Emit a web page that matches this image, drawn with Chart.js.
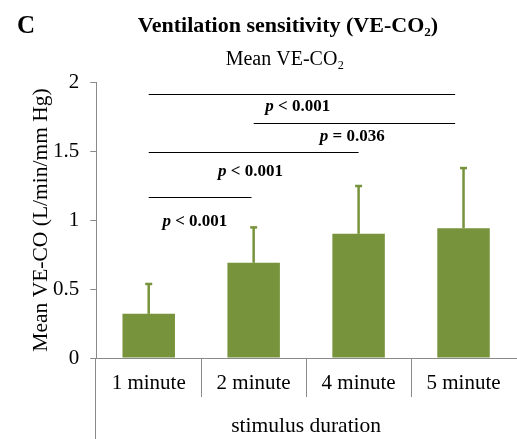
<!DOCTYPE html>
<html>
<head>
<meta charset="utf-8">
<script src="https://cdn.jsdelivr.net/npm/chart.js@4"></script>
<style>
html,body{margin:0;padding:0;background:#fff;}
#wrap{width:517px;height:439px;position:relative;}
</style>
</head>
<body>
<div id="wrap"><canvas id="c" width="517" height="439"></canvas></div>
<script>
// ---- data ----
const categories = ['1 minute', '2 minute', '4 minute', '5 minute'];
const meanValues = [0.32, 0.69, 0.90, 0.94];
const errorValues = [0.22, 0.26, 0.35, 0.44];
const yTicks = [0, 0.5, 1, 1.5, 2];
// significance brackets (category index from/to, level in data units)
const bracketFrom = [0, 1, 0, 0];
const bracketTo = [2.92, 2.92, 2.0, 0.98];
const bracketLevel = [1.915, 1.705, 1.496, 1.17];
const pLabels = ['< 0.001', '= 0.036', '< 0.001', '< 0.001'];
const pLabelX = [1.42, 1.94, 0.97, 0.44];
const pLabelLevel = [1.79, 1.575, 1.32, 0.96];
const yTitle = 'Mean VE-CO (L/min/mm Hg)';
const xTitle = 'stimulus duration';

const GREEN = '#77933C';
const AXIS = '#8a8a8a';
const SERIF = "'Liberation Serif', 'Times New Roman', serif";

const extras = {
  id: 'extras',
  afterDatasetsDraw(chart) {
    const ctx = chart.ctx;
    const x = chart.scales.x, y = chart.scales.y;
    const meta = chart.getDatasetMeta(0);
    ctx.save();
    // error bars
    ctx.strokeStyle = GREEN;
    meanValues.forEach((v, i) => {
      const px = meta.data[i].x;
      const top = y.getPixelForValue(v + errorValues[i]);
      const base = y.getPixelForValue(v);
      ctx.lineWidth = 2.5;
      ctx.beginPath(); ctx.moveTo(px, base); ctx.lineTo(px, top); ctx.stroke();
      ctx.beginPath(); ctx.moveTo(px - 3.5, top + 0.5); ctx.lineTo(px + 3.5, top + 0.5); ctx.stroke();
    });
    // brackets
    ctx.strokeStyle = '#000';
    ctx.lineWidth = 1.2;
    bracketLevel.forEach((lv, i) => {
      const yy = Math.round(y.getPixelForValue(lv)) + 0.5;
      ctx.beginPath();
      ctx.moveTo(x.getPixelForValue(bracketFrom[i]), yy);
      ctx.lineTo(x.getPixelForValue(bracketTo[i]), yy);
      ctx.stroke();
    });
    // p labels
    ctx.fillStyle = '#000';
    ctx.textBaseline = 'alphabetic';
    pLabels.forEach((t, i) => {
      const cx = x.getPixelForValue(pLabelX[i]);
      const cy = y.getPixelForValue(pLabelLevel[i]);
      ctx.font = 'italic bold 17px ' + SERIF;
      const w1 = ctx.measureText('p ').width;
      ctx.font = 'bold 17px ' + SERIF;
      const w2 = ctx.measureText(t).width;
      const sx = cx - (w1 + w2) / 2;
      ctx.textAlign = 'left';
      ctx.font = 'italic bold 17px ' + SERIF;
      ctx.fillText('p ', sx, cy);
      ctx.font = 'bold 17px ' + SERIF;
      ctx.fillText(t, sx + w1, cy);
    });
    // category separators below the axis
    ctx.strokeStyle = AXIS;
    ctx.lineWidth = 1;
    const bottom = chart.chartArea.bottom;
    for (let i = 0; i < categories.length - 1; i++) {
      const sx = Math.round(x.getPixelForValue(i + 0.5)) + 0.5;
      ctx.beginPath(); ctx.moveTo(sx, bottom); ctx.lineTo(sx, bottom + 39); ctx.stroke();
    }
    // left axis extended down
    const lx = Math.round(chart.chartArea.left) - 0.5;
    ctx.beginPath(); ctx.moveTo(lx, bottom); ctx.lineTo(lx, chart.height); ctx.stroke();
    // y axis title
    ctx.fillStyle = '#000';
    ctx.save();
    ctx.translate(41, (chart.chartArea.top + chart.chartArea.bottom) / 2);
    ctx.rotate(-Math.PI / 2);
    ctx.textAlign = 'center';
    ctx.textBaseline = 'middle';
    ctx.font = '21.5px ' + SERIF;
    ctx.fillText(yTitle, 0, 0);
    ctx.restore();
    // titles
    ctx.textBaseline = 'alphabetic';
    ctx.textAlign = 'left';
    ctx.font = 'bold 25px ' + SERIF;
    ctx.fillText('C', 17, 33);
    ctx.textAlign = 'center';
    ctx.font = 'bold 22px ' + SERIF;
    ctx.fillText('Ventilation sensitivity (VE-CO\u2082)', 288, 32);
    ctx.font = '20px ' + SERIF;
    ctx.fillText('Mean VE-CO\u2082', 285, 65);
    ctx.restore();
  }
};

new Chart(document.getElementById('c'), {
  type: 'bar',
  data: {
    labels: categories,
    datasets: [{
      data: meanValues,
      backgroundColor: GREEN,
      borderWidth: 0,
      categoryPercentage: 1.0,
      barPercentage: 0.5
    }]
  },
  options: {
    responsive: false,
    animation: false,
    devicePixelRatio: 1,
    layout: { padding: { top: 82, right: 1, left: 42, bottom: 0 } },
    plugins: { legend: { display: false }, tooltip: { enabled: false }, title: { display: false } },
    scales: {
      x: {
        type: 'category',
        offset: true,
        grid: { display: true, drawOnChartArea: false, drawTicks: false, color: AXIS },
        border: { color: AXIS, width: 1 },
        ticks: { color: '#000', font: { family: SERIF, size: 21 }, padding: 13, maxRotation: 0 },
        title: { display: true, text: xTitle, color: '#000', font: { family: SERIF, size: 21.5 }, padding: { top: 4, bottom: 0 } }
      },
      y: {
        min: 0, max: 2,
        afterBuildTicks(scale) { scale.ticks = yTicks.map(v => ({ value: v })); },
        grid: { drawOnChartArea: false, drawTicks: true, tickLength: 6, color: AXIS },
        border: { color: AXIS, width: 1 },
        ticks: { color: '#000', font: { family: SERIF, size: 21 }, padding: 11, callback: v => String(v) },
        title: { display: false }
      }
    }
  },
  plugins: [extras]
});
</script>
</body>
</html>
